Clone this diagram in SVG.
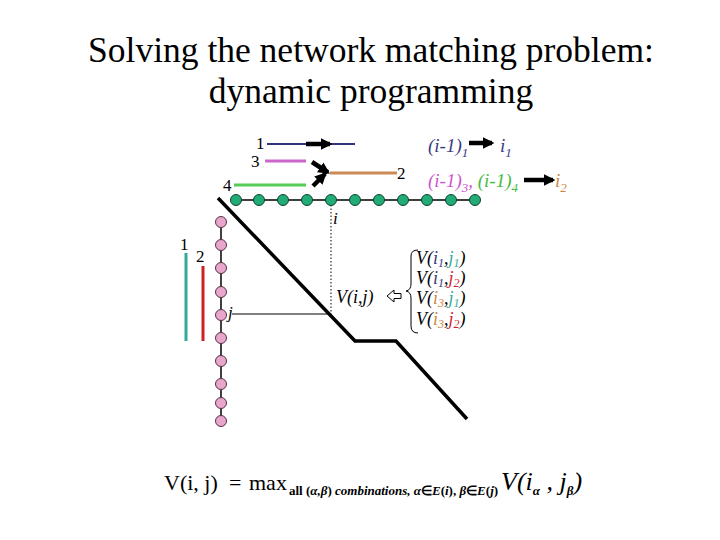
<svg xmlns="http://www.w3.org/2000/svg" width="720" height="540" viewBox="0 0 720 540" font-family="'Liberation Serif','Times New Roman',serif">
<defs>
<marker id="ah" viewBox="0 0 10 10" refX="8" refY="5" markerWidth="2.6" markerHeight="2.8" orient="auto" markerUnits="strokeWidth"><path d="M0,0 L10,5 L0,10 z" fill="#000"/></marker>
<style>
svg,text,tspan{font-family:"Liberation Serif","Times New Roman",serif;}
.t{font-size:35.5px;fill:#000;text-anchor:middle;}
.n{font-size:17px;fill:#000;}
.it{font-style:italic;}
.gd{fill:#22aa77;stroke:#114433;stroke-width:1;}
.pd{fill:#e8a6cc;stroke:#553344;stroke-width:1;}
.ar{stroke:#000;stroke-width:4.5;fill:none;marker-end:url(#ah);}
.nv{fill:#3a3a80;} .mg{fill:#cc55cc;} .gr{fill:#44bb44;} .or{fill:#cc8844;} .tl{fill:#33aa99;} .rd{fill:#cc2233;}
</style>
</defs>
<rect width="720" height="540" fill="#fff"/>
<text class="t" x="371" y="62">Solving the network matching problem:</text>
<text class="t" x="371" y="103">dynamic programming</text>

<g id="edges">
<line x1="267" y1="144" x2="355" y2="144" stroke="#333377" stroke-width="2"/>
<line x1="265" y1="161" x2="306" y2="161" stroke="#cc66cc" stroke-width="3"/>
<line x1="234" y1="185" x2="306" y2="185" stroke="#55cc55" stroke-width="3"/>
<line x1="330" y1="173" x2="397" y2="173" stroke="#cc8855" stroke-width="3"/>
<line x1="186" y1="253" x2="186" y2="341" stroke="#33aa99" stroke-width="3"/>
<line x1="203" y1="266" x2="203" y2="341" stroke="#cc2222" stroke-width="3"/>
</g>
<g id="connectors">
<line class="ar" x1="306" y1="144" x2="330" y2="144"/>
<line class="ar" x1="312" y1="162" x2="328" y2="172.5"/>
<line class="ar" x1="313" y1="186" x2="325" y2="174"/>
<line class="ar" x1="469" y1="143" x2="492" y2="143"/>
<line class="ar" x1="524" y1="180" x2="553" y2="180"/>
<polyline points="218,198 355,341 396,341 467,419" fill="none" stroke="#000" stroke-width="3.5"/>
<line x1="236" y1="200" x2="475" y2="200" stroke="#000" stroke-width="1.5"/>
<line x1="221" y1="222" x2="221" y2="424" stroke="#000" stroke-width="1.5"/>
<line x1="232" y1="314" x2="331" y2="314" stroke="#000" stroke-width="1"/>
<line x1="331" y1="205" x2="331" y2="314" stroke="#000" stroke-width="1" stroke-dasharray="1.5,2"/>
</g>

<g id="labels">
<text class="n" x="256" y="149">1</text>
<text class="n" x="251" y="167">3</text>
<text class="n" x="223" y="191">4</text>
<text class="n" x="397" y="179">2</text>
<text class="n it" x="333" y="224">i</text>
<text class="n" x="180" y="250">1</text>
<text class="n" x="196" y="262">2</text>
<text class="n it" x="228" y="318">j</text>
</g>

<g id="row-i">
<circle class="gd" cx="236" cy="200" r="5.5"/>
<circle class="gd" cx="259" cy="200" r="5.5"/>
<circle class="gd" cx="283" cy="200" r="5.5"/>
<circle class="gd" cx="307" cy="200" r="5.5"/>
<circle class="gd" cx="331" cy="200" r="5.5"/>
<circle class="gd" cx="355" cy="200" r="5.5"/>
<circle class="gd" cx="379" cy="200" r="5.5"/>
<circle class="gd" cx="403" cy="200" r="5.5"/>
<circle class="gd" cx="427" cy="200" r="5.5"/>
<circle class="gd" cx="451" cy="200" r="5.5"/>
<circle class="gd" cx="475" cy="200" r="5.5" fill="#22bb88"/>
</g>
<g id="col-j">
<circle class="pd" cx="221" cy="222" r="5.5"/>
<circle class="pd" cx="221" cy="245" r="5.5"/>
<circle class="pd" cx="221" cy="268" r="5.5"/>
<circle class="pd" cx="221" cy="292" r="5.5"/>
<circle class="pd" cx="221" cy="315" r="5.5"/>
<circle class="pd" cx="221" cy="338" r="5.5"/>
<circle class="pd" cx="221" cy="361" r="5.5"/>
<circle class="pd" cx="221" cy="384" r="5.5"/>
<circle class="pd" cx="221" cy="403" r="5.5"/>
<circle class="pd" cx="221" cy="421" r="5.5"/>
</g>

<g id="rules" font-style="italic" font-size="19">
<text x="428" y="152" class="nv">(i-1)<tspan font-size="13" dy="5">1</tspan></text>
<text x="500" y="152" class="nv">i<tspan font-size="13" dy="5">1</tspan></text>
<text x="428" y="187"><tspan class="mg">(i-1)</tspan><tspan class="mg" font-size="13" dy="5">3</tspan><tspan class="mg" dy="-5">, </tspan><tspan class="gr">(i-1)</tspan><tspan class="gr" font-size="13" dy="5">4</tspan></text>
<text x="555" y="187" class="or">i<tspan font-size="13" dy="5">2</tspan></text>
</g>

<g id="recurrence" font-style="italic" font-size="18">
<text x="336" y="303">V(i,j)</text>
<path d="M387,296 L394,290 L394,293.5 L401,293.5 L401,298.5 L394,298.5 L394,302 Z" fill="none" stroke="#000" stroke-width="1"/>
<path d="M418,250 Q411,250 411,256 L411,284 Q411,290 406,291 Q411,292 411,298 L411,326 Q411,333 418,333" fill="none" stroke="#000" stroke-width="1"/>
<text x="416" y="264">V(<tspan class="nv">i</tspan><tspan class="nv" font-size="12" dy="3">1</tspan><tspan dy="-3">,</tspan><tspan class="tl">j</tspan><tspan class="tl" font-size="12" dy="3">1</tspan><tspan dy="-3">)</tspan></text>
<text x="416" y="284">V(<tspan class="nv">i</tspan><tspan class="nv" font-size="12" dy="3">1</tspan><tspan dy="-3">,</tspan><tspan class="rd">j</tspan><tspan class="rd" font-size="12" dy="3">2</tspan><tspan dy="-3">)</tspan></text>
<text x="416" y="304">V(<tspan class="or">i</tspan><tspan class="or" font-size="12" dy="3">3</tspan><tspan dy="-3">,</tspan><tspan class="tl">j</tspan><tspan class="tl" font-size="12" dy="3">1</tspan><tspan dy="-3">)</tspan></text>
<text x="416" y="325">V(<tspan class="or">i</tspan><tspan class="or" font-size="12" dy="3">3</tspan><tspan dy="-3">,</tspan><tspan class="rd">j</tspan><tspan class="rd" font-size="12" dy="3">2</tspan><tspan dy="-3">)</tspan></text>
</g>

<g id="formula">
<text x="164" y="490" font-size="22">V(i, j)</text>
<text x="229" y="490" font-size="22">=</text>
<text x="249" y="490" font-size="22">max</text>
<text x="289" y="495" font-size="13" font-weight="bold">all (<tspan font-style="italic">α,β</tspan>) <tspan font-style="italic">combinations, α</tspan>∈<tspan font-style="italic">E</tspan>(<tspan font-style="italic">i</tspan>), <tspan font-style="italic">β</tspan>∈<tspan font-style="italic">E</tspan>(<tspan font-style="italic">j</tspan>)</text>
<text x="501" y="490" font-size="26" font-style="italic">V(i<tspan font-size="13" font-weight="bold" dy="5">α</tspan><tspan dy="-5"> , j</tspan><tspan font-size="13" font-weight="bold" dy="5">β</tspan><tspan dy="-5">)</tspan></text>
</g>
</svg>
